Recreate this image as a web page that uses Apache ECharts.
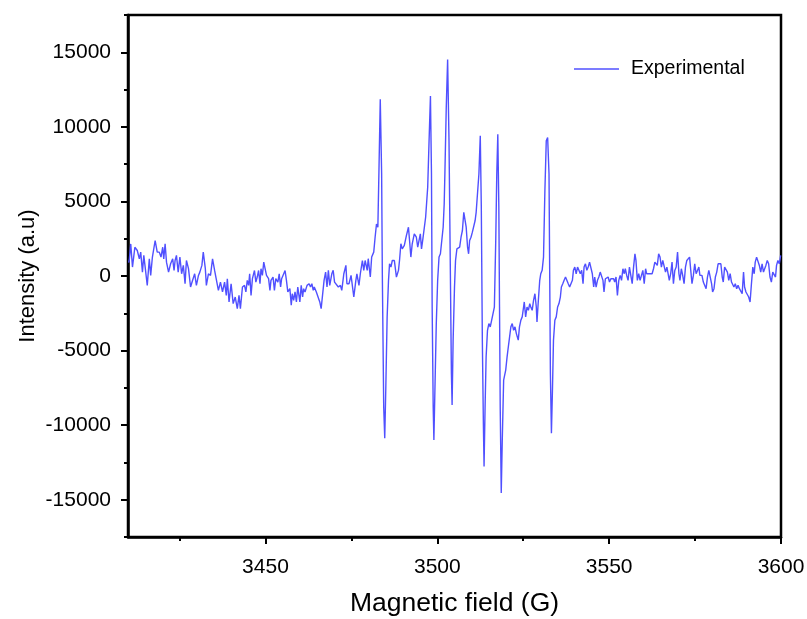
<!DOCTYPE html>
<html>
<head>
<meta charset="utf-8">
<script src="https://cdn.jsdelivr.net/npm/echarts@6/dist/echarts.min.js"></script>
<style>html,body{margin:0;padding:0;background:#fff;}#chart{width:807px;height:619px;}</style>
</head>
<body>
<div id="chart"></div>
<script>
// Magnetic field (G)
const fieldG = [
3410.2,3410.4,3410.8,3411.3,3412.0,3412.7,3413.3,3413.7,3414.2,3414.6,3415.6,3416.2,3416.6,3417.1,3417.9,3418.5,3419.1,3419.6,3420.1,3420.4,3420.8,3421.2,3421.8,3422.4,3423.0,3423.4,3423.7,3424.1,3424.6,3425.1,3425.6,3426.1,3426.6,3427.0,3427.6,3428.2,3428.8,3429.4,3429.9,3430.5,3430.9,3431.5,3431.9,3432.5,3432.8,3433.4,3434.0,3434.6,3435.2,3435.7,3436.3,3436.9,3437.5,
3438.1,3438.6,3438.9,3439.4,3440.0,3440.6,3441.2,3441.8,3442.3,3442.7,3443.3,3443.9,3444.3,3444.7,3445.1,3445.4,3445.8,3446.2,3446.8,3447.2,3447.6,3448.0,3448.4,3448.7,3449.1,3449.5,3449.9,3450.3,3450.9,3451.3,3451.6,3452.2,3452.6,3453.0,3453.6,3454.0,3454.4,3454.7,3455.1,3455.7,3456.1,3456.5,3457.1,3457.5,3457.8,3458.2,3458.6,3459.0,3459.4,3460.0,3460.4,3460.8,3461.1,3461.5,3462.1,3462.7,3463.1,3463.5,3463.9,3464.2,3464.8,3465.2,3465.8,3466.2,
3467.05,3467.5,3467.9,3468.3,3468.7,3469.3,3469.7,3470.1,3470.6,3471.2,3471.8,3472.2,3472.8,3473.4,3473.7,3474.3,3474.9,3475.7,3476.3,3476.6,3477.2,3477.6,3478.2,3478.6,3479.0,3479.6,3479.9,3480.5,3480.9,3481.5,3481.9,3482.3,3482.7,3483.0,3483.4,3483.8,3484.0,3484.2,3484.4,3484.7,3485.0,3485.4,3485.8,3486.1,3486.5,3486.9,3487.5,3488.1,3488.7,3489.0,3489.4,3489.8,3490.4,3491.0,3491.6,3492.0,3492.3,3492.7,3493.3,3493.9,3494.3,
3495.06,3495.4,3495.8,3496.2,3496.6,3497.0,3497.2,3497.6,3498.0,3498.3,3498.5,3498.8,3499.0,3499.3,3499.7,3500.1,3500.5,3500.9,3501.3,3501.7,3502.0,3502.2,3502.6,3503.0,3503.4,3503.8,3504.1,3504.3,3504.6,3505.0,3505.3,3505.7,3506.1,3506.5,3506.9,3507.3,3507.7,3508.0,3508.4,3508.8,3509.1,3509.4,3509.8,3510.2,3510.6,3511.0,3511.3,3511.7,3512.1,3512.5,3512.8,3513.1,3513.4,3513.6,3513.9,3514.2,3514.6,3515.0,3515.4,3515.8,3516.2,3516.6,3517.0,3517.3,3517.6,3517.9,3518.1,3518.3,3518.6,3518.9,3519.3,3519.9,3520.3,3520.6,3521.0,3521.4,3521.8,3522.2,3522.6,3523.0,
3523.55,3523.9,3524.3,3524.7,3525.1,3525.3,3525.7,3526.1,3526.5,3526.9,3527.2,3527.6,3528.0,3528.4,3528.8,3529.0,3529.4,3529.8,3530.1,3530.5,3530.9,3531.3,3531.7,3532.1,3532.5,3532.7,3532.9,3533.2,3533.5,3533.8,3534.2,3534.6,3535.0,3535.4,3535.8,3536.1,3536.5,3536.9,3537.3,3537.7,3538.1,3538.5,3538.9,3539.3,3539.6,3540.0,3540.4,3540.8,3541.2,3541.6,3542.0,3542.4,3542.7,3543.1,3543.5,3543.9,3544.3,3544.7,3545.1,3545.5,3545.8,3546.2,3546.6,3547.0,
3547.4,3547.8,3548.2,3548.5,3548.9,3549.3,3549.7,3550.1,3550.5,3550.9,3551.3,3551.6,3552.0,3552.4,3552.8,3553.2,3553.6,3554.0,3554.4,3554.7,3555.1,3555.5,3555.9,3556.3,3556.7,3557.1,3557.5,3557.8,3558.2,3558.6,3559.0,3559.4,3559.8,3560.2,3560.6,3560.9,3561.3,3561.7,3562.1,3562.5,3562.9,3563.3,3563.7,3564.0,3564.4,3564.8,3565.2,3565.6,3566.0,3566.4,3566.8,3567.1,3567.5,3567.9,3568.3,3568.7,3569.1,3569.5,3569.9,3570.3,3570.6,3571.0,3571.4,3571.8,3572.2,3572.6,3573.0,3573.4,3573.7,3574.1,3574.5,3574.9,3575.3,3575.7,3576.1,3576.4,
3576.65,3577.0,3577.4,3577.8,3578.2,3578.6,3579.0,3579.4,3579.8,3580.1,3580.5,3580.9,3581.3,3581.7,3582.1,3582.5,3582.9,3583.2,3583.6,3584.0,3584.4,3584.8,3585.2,3585.6,3585.9,3586.3,3586.7,3587.1,3587.5,3587.9,3588.3,3588.7,3589.1,3589.4,3589.8,3590.2,3590.6,3591.0,3591.4,3591.8,3592.2,3592.5,3592.9,3593.3,3593.7,3594.1,3594.5,3594.9,3595.3,3595.6,3596.0,3596.4,3596.8,3597.2,3597.6,3598.0,3598.4,3598.7,3599.1,3599.5,3599.9
];
// Intensity (a.u)
const intensity = [
900,1150,2150,600,1930,1710,1150,1600,260,1380,-630,1150,40,1270,2380,1600,1600,1270,1930,1150,2160,930,260,820,1150,370,1040,1380,260,1270,150,710,-520,1040,490,-740,-290,150,-630,40,260,710,1600,490,-630,150,40,1150,370,490,-960,-410,-1070,
-410,-1300,-180,-1740,-520,-1850,-1410,-2190,-1300,-2190,-740,-630,-1070,-290,-630,150,-1300,-180,370,-410,-70,370,-520,490,40,930,930,40,-180,-960,-290,-70,-960,-180,-410,150,-740,-180,40,370,-290,-1070,-850,-1960,-1190,-1630,-1070,-1740,-740,-1740,-630,-1410,-850,-1070,-630,-520,-740,-520,-960,-740,-1070,-1070,-1740,-2190,
-290,260,-740,380,-630,150,380,-410,-520,-740,-630,-960,150,710,-520,-520,40,-1410,-290,150,-630,150,1040,380,1040,380,1160,-70,1270,1600,2600,3490,3270,6840,11850,6840,150,-4300,-8760,-10880,-7650,-2750,-290,820,600,1040,1040,-70,380,1040,2160,1820,2050,2710,3270,2160,1270,2160,2830,2600,1930,
2830,1820,2490,2380,3940,4050,5950,9060,12070,6840,-2080,-8760,-10990,-7650,-3190,-290,1270,1490,1380,3270,4830,6840,11290,14520,9060,150,-6530,-8650,-4300,-740,1040,1820,1710,1930,2600,3050,4270,4160,3270,1930,1490,2380,2600,2940,3050,3720,4270,4390,6840,9400,4610,-4300,-9870,-12770,-8760,-5420,-3640,-3190,-3410,-2970,-3080,-2080,2380,6840,9510,4610,-2080,-8760,-14550,-10990,-6980,-6310,-5420,-4860,-4750,-3410,-3190,-3640,-3410,-3860,
-4300,-3410,-2970,-2740,-2080,-1740,-2740,-2080,-2300,-1850,-2080,-2300,-1630,-1190,-2080,-3080,-1630,-290,150,380,1270,5720,9060,9290,6840,150,-6530,-10540,-7650,-4300,-2970,-2740,-2080,-1850,-1410,-740,-520,-290,-70,40,-520,-740,-850,-290,380,600,150,600,380,150,380,-520,600,820,380,600,930,1040,150,-740,-70,-740,-290,-70,
263,374,-294,-1074,-183,-294,-71,-405,-183,-294,-183,-405,-71,-1297,-294,40,-294,486,152,486,40,-294,597,709,-517,597,1488,1043,-294,152,-294,40,374,-517,486,152,263,152,263,152,486,931,820,709,1488,1266,597,1043,931,263,597,486,-294,152,931,-517,374,597,1600,152,-294,486,40,-517,597,1043,931,1266,486,-517,40,820,152,374,597,40,
-71,40,-405,-294,-851,-71,374,486,-517,-1074,-851,-71,263,820,931,820,-71,-405,597,486,263,-294,152,-405,-294,-740,-517,-851,-628,-851,-962,-1185,263,-740,-1074,-962,-1408,-1742,-517,597,152,931,1266,1377,709,263,820,263,374,709,1043,820,-71,-405,263,374,-71,709,1043,820,1377
];
const xMajorTicks = [3450, 3500, 3550, 3600];
const xMinorTicks = [3425, 3475, 3525, 3575];
const yMajorTicks = [-15000, -10000, -5000, 0, 5000, 10000, 15000];
const yMinorTicks = [-17500, -12500, -7500, -2500, 2500, 7500, 12500, 17500];
const seriesName = 'Experimental';

const data = fieldG.map((f, i) => [f, intensity[i]]);
const FONT = '"Liberation Sans", Arial, Helvetica, sans-serif';
const LINE_COLOR = '#5050ff';
const chart = echarts.init(document.getElementById('chart'), null, {renderer: 'canvas'});
const X0 = 3410, X1 = 3600, Y0 = -17500, Y1 = 17500;
const plain = v => String(v);
chart.setOption({
  animation: false,
  backgroundColor: '#fff',
  grid: {left: 128, right: 26, top: 15, bottom: 82, containLabel: false, outerBoundsMode: 'none',
         show: true, borderColor: '#000', borderWidth: 2.5, backgroundColor: 'transparent'},
  legend: {
    data: [{name: seriesName, icon: 'rect'}], left: 574, top: 59, padding: 0, itemWidth: 45, itemHeight: 1.4,
    itemStyle: {color: LINE_COLOR, borderWidth: 0},
    textStyle: {fontFamily: FONT, fontSize: 19.5, color: '#000', padding: [0, 0, 0, 7]}
  },
  xAxis: [{
    type: 'value', min: X0, max: X1, position: 'bottom',
    name: 'Magnetic field (G)', nameLocation: 'middle', nameGap: 53,
    nameTextStyle: {fontFamily: FONT, fontSize: 26.5, color: '#000'},
    axisLine: {show: true, onZero: false, lineStyle: {color: '#000', width: 2.5}},
    axisTick: {show: true, inside: false, length: 7, customValues: xMajorTicks, lineStyle: {color: '#000', width: 2}},
    axisLabel: {show: true, customValues: xMajorTicks, formatter: plain, margin: 20, fontFamily: FONT, fontSize: 21, color: '#000'},
    splitLine: {show: false}
  }, {
    type: 'value', min: X0, max: X1, position: 'bottom',
    axisLine: {show: false, onZero: false},
    axisTick: {show: true, inside: false, length: 4, customValues: xMinorTicks, lineStyle: {color: '#000', width: 2}},
    axisLabel: {show: false}, splitLine: {show: false}
  }],
  yAxis: [{
    type: 'value', min: Y0, max: Y1, position: 'left',
    name: 'Intensity (a.u)', nameLocation: 'middle', nameGap: 89, nameRotate: 90, nameMoveOverlap: false,
    nameTextStyle: {fontFamily: FONT, fontSize: 22, color: '#000'},
    axisLine: {show: true, onZero: false, lineStyle: {color: '#000', width: 2.5}},
    axisTick: {show: true, inside: false, length: 7, customValues: yMajorTicks, lineStyle: {color: '#000', width: 2}},
    axisLabel: {show: true, customValues: yMajorTicks, formatter: plain, margin: 17, fontFamily: FONT, fontSize: 21, color: '#000'},
    splitLine: {show: false}
  }, {
    type: 'value', min: Y0, max: Y1, position: 'left',
    axisLine: {show: false, onZero: false},
    axisTick: {show: true, inside: false, length: 4, customValues: yMinorTicks, lineStyle: {color: '#000', width: 2}},
    axisLabel: {show: false}, splitLine: {show: false}
  }],
  series: [{
    name: seriesName, type: 'line', data: data, symbol: 'none', smooth: false,
    xAxisIndex: 0, yAxisIndex: 0,
    lineStyle: {color: LINE_COLOR, width: 1.4}, itemStyle: {color: LINE_COLOR}
  }]
});
</script>
</body>
</html>
